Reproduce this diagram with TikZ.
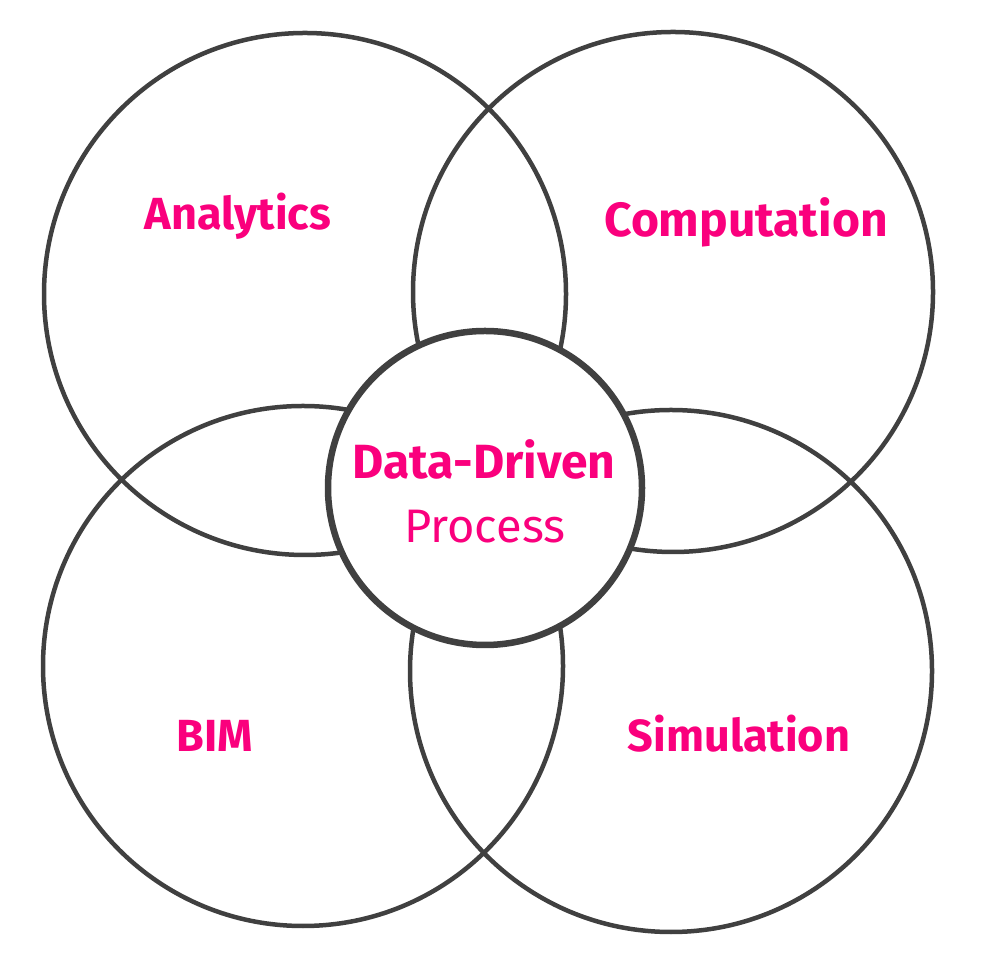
\documentclass[tikz,border=0pt]{standalone}
\usepackage{fontspec}
\setmainfont{Fira Sans}
\usepackage{tikz}
\definecolor{ringgray}{RGB}{64,64,64}
\definecolor{pink}{RGB}{250,0,125}

\begin{document}
\begin{tikzpicture}[
  x=1pt, y=1pt,
  ring/.style={circle, draw=ringgray, line width=4.5pt, inner sep=0pt, outer sep=0pt},
  hub/.style={ring, line width=6.5pt, fill=white},
  lbl/.style={text=pink, anchor=base, inner sep=0pt},
]
  \useasboundingbox (0,0) rectangle (981,976);
  % four overlapping fields
  \node[ring, minimum size=522pt] (analytics) at (305,682) {};
  \node[ring, minimum size=520pt] (computation) at (673,684) {};
  \node[ring, minimum size=520pt] (bim) at (303,310) {};
  \node[ring, minimum size=522pt] (simulation) at (671,305) {};
  % core in the middle
  \node[hub, minimum size=314pt] (core) at (485,488) {};

  \node[lbl, font=\fontsize{45}{45}\selectfont\bfseries] (analyticstxt) at (238,746) {Analytics};
  \node[lbl, font=\fontsize{48}{48}\selectfont\bfseries] (computationtxt) at (746,739) {Computation};
  \node[lbl, font=\fontsize{45}{45}\selectfont\bfseries] (bimtxt) at (215,224) {BIM};
  \node[lbl, font=\fontsize{45}{45}\selectfont\bfseries] (simulationtxt) at (739,224) {Simulation};
  \node[lbl, font=\fontsize{48}{48}\selectfont\bfseries] (coretop) at (484,497) {Data-Driven};
  \node[lbl, font=\fontsize{47}{47}\selectfont] (corebottom) at (485,433) {Process};
\end{tikzpicture}
\end{document}
